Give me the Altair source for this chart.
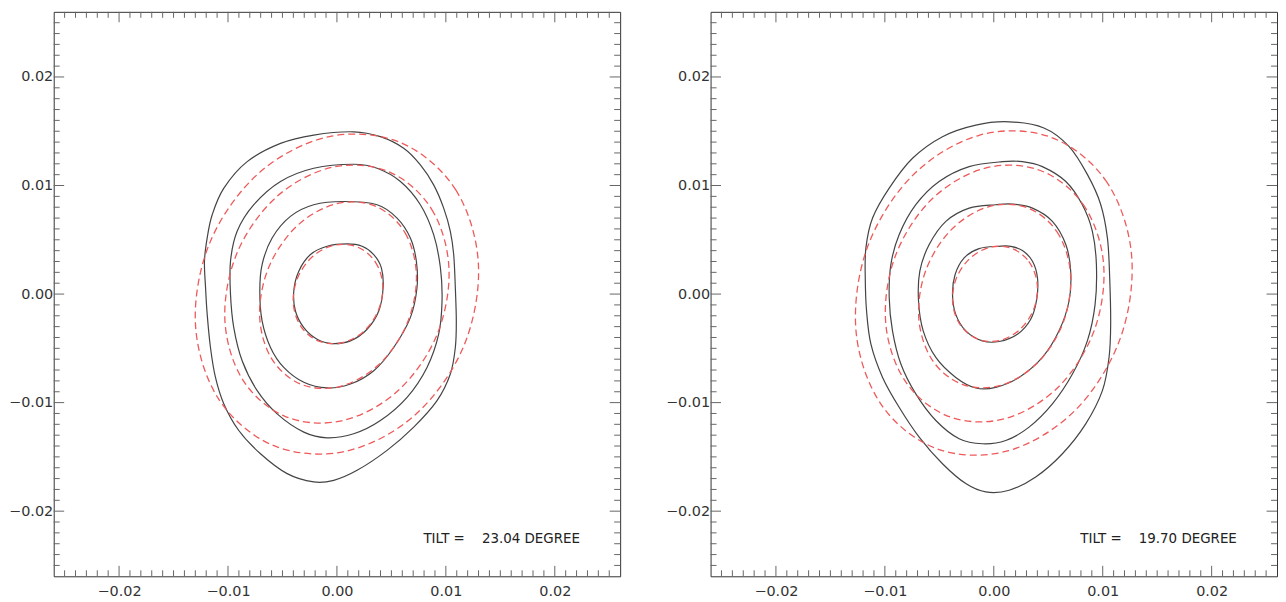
import altair as alt
import pandas as pd

# ---------------- data (contour coordinates in units of 1e-3) ----------------
tilts = [23.04, 19.70]
major_ticks = [-0.02, -0.01, 0.0, 0.01, 0.02]
minor_ticks = [round(i * 0.001, 3) for i in range(-25, 26) if i % 10 != 0]

# Left panel: measured contours (black)
L_b1_x = [0.93, -0.90, -2.43, -3.50, -3.96, -3.81, -3.04, -1.82, -0.44, 1.24, 2.77, 3.84, 4.24, 4.08, 3.38, 2.31]
L_b1_y = [4.62, 4.40, 3.64, 2.11, 0.28, -1.56, -3.09, -4.16, -4.56, -4.31, -3.24, -1.56, 0.58, 2.42, 3.64, 4.40]
L_b2_x = [0.63, -2.13, -4.27, -5.95, -6.87, -7.08, -6.87, -6.10, -4.88, -3.04, -0.90, 1.24, 3.38, 5.21, 6.74, 7.35, 7.29, 6.74, 5.52, 3.69]
L_b2_y = [8.53, 8.23, 7.16, 5.17, 2.72, 0.28, -2.48, -4.92, -6.76, -8.13, -8.65, -8.29, -7.06, -4.92, -2.17, 0.58, 3.03, 5.17, 7.00, 8.23]
L_b3_x = [1.54, -2.13, -5.18, -7.63, -9.16, -9.77, -9.77, -9.47, -8.70, -7.32, -5.49, -3.04, -0.90, 1.54, 3.99, 6.44, 8.27, 9.34, 9.65, 9.50, 8.88, 7.66, 5.83, 3.69]
L_b3_y = [11.96, 11.59, 10.37, 8.23, 5.78, 3.03, -0.03, -3.09, -6.15, -8.90, -11.04, -12.72, -13.24, -12.87, -11.65, -9.51, -6.76, -3.70, -0.64, 2.42, 5.47, 8.23, 10.37, 11.59]
L_b4_x = [1.54, -2.13, -5.18, -8.24, -10.38, -11.45, -11.91, -12.16, -12.06, -11.91, -11.61, -11.15, -10.38, -9.01, -7.02, -4.57, -2.13, -0.29, 1.85, 4.60, 7.05, 9.19, 10.41, 10.87, 10.96, 10.87, 10.72, 10.41, 9.80, 8.88, 7.66, 6.13, 3.99]
L_b4_y = [14.95, 14.65, 13.88, 12.20, 9.76, 7.31, 5.17, 3.03, 0.58, -1.87, -4.92, -7.68, -10.12, -12.57, -14.71, -16.54, -17.31, -17.16, -16.24, -14.40, -12.26, -9.82, -7.37, -4.92, -2.48, 0.58, 3.64, 5.78, 7.92, 10.06, 11.90, 13.43, 14.50]

# Left panel: fitted ellipses (red dashed)
L_r1_x = [1.93, 3.53, 4.21, 3.78, 2.38, 0.36, -1.73, -3.33, -4.01, -3.58, -2.18, -0.16]
L_r1_y = [4.31, 2.95, 0.80, -1.56, -3.51, -4.51, -4.31, -2.95, -0.80, 1.56, 3.51, 4.51]
L_r2_x = [3.57, 6.26, 7.30, 6.41, 3.83, 0.25, -3.37, -6.06, -7.10, -6.21, -3.63, -0.05]
L_r2_y = [8.08, 5.64, 1.67, -2.78, -6.51, -8.52, -8.28, -5.84, -1.87, 2.58, 6.31, 8.32]
L_r3_x = [4.78, 8.70, 10.29, 9.13, 5.52, 0.43, -4.78, -8.70, -10.29, -9.13, -5.52, -0.43]
L_r3_y = [11.26, 7.81, 2.27, -3.88, -8.98, -11.68, -11.26, -7.81, -2.27, 3.88, 8.98, 11.68]
L_r4_x = [5.91, 10.91, 12.99, 11.59, 7.08, 0.68, -5.91, -10.91, -12.99, -11.59, -7.08, -0.68]
L_r4_y = [13.92, 9.59, 2.70, -4.92, -11.22, -14.51, -13.92, -9.59, -2.70, 4.92, 11.22, 14.51]

# Right panel: measured contours (black)
R_b1_x = [0.49, -1.35, -2.72, -3.55, -3.79, -3.49, -2.57, -1.04, 0.49, 2.17, 3.39, 3.94, 4.01, 3.55, 2.63, 1.56]
R_b1_y = [4.40, 4.19, 3.33, 1.80, -0.03, -1.87, -3.39, -4.31, -4.37, -3.70, -2.32, -0.49, 1.50, 3.03, 4.01, 4.40]
R_b2_x = [0.18, -2.26, -4.40, -5.93, -6.79, -6.91, -6.48, -5.32, -3.49, -1.65, 0.18, 2.32, 4.46, 5.99, 6.91, 7.06, 6.61, 5.38, 3.55, 1.71]
R_b2_y = [8.23, 7.92, 6.70, 4.56, 2.11, -0.64, -3.39, -5.84, -7.68, -8.65, -8.59, -7.68, -5.84, -3.39, -0.64, 2.11, 4.56, 6.70, 7.92, 8.29]
R_b3_x = [0.80, -2.26, -5.02, -7.16, -8.69, -9.45, -9.60, -9.30, -8.53, -7.16, -5.32, -3.18, -1.04, 1.10, 3.24, 5.38, 7.22, 8.59, 9.30, 9.42, 9.05, 8.13, 6.61, 4.46, 2.63]
R_b3_y = [12.20, 11.74, 10.37, 8.23, 5.47, 2.72, -0.34, -3.39, -6.45, -9.20, -11.65, -13.33, -13.79, -13.49, -12.26, -10.12, -7.37, -4.31, -0.95, 2.72, 5.78, 8.23, 10.37, 11.74, 12.20]
R_b4_x = [1.41, -1.65, -4.71, -7.46, -9.60, -11.13, -11.74, -11.80, -11.68, -11.28, -10.21, -8.69, -6.85, -4.71, -2.57, -0.73, 1.41, 3.85, 6.30, 8.44, 9.97, 10.58, 10.73, 10.64, 10.43, 9.80, 8.60, 6.90, 4.60]
R_b4_y = [15.87, 15.57, 14.50, 12.51, 9.76, 7.00, 4.25, 1.50, -1.56, -4.62, -7.68, -10.43, -13.18, -15.63, -17.46, -18.23, -18.07, -16.85, -14.71, -11.96, -8.90, -5.84, -2.78, 1.50, 5.17, 8.30, 11.00, 13.60, 15.30]

# Right panel: fitted ellipses (red dashed)
R_r1_x = [1.61, 3.21, 3.98, 3.71, 2.47, 0.61, -1.39, -2.99, -3.76, -3.49, -2.25, -0.39]
R_r1_y = [4.22, 3.01, 1.00, -1.27, -3.19, -4.26, -4.18, -2.97, -0.96, 1.31, 3.23, 4.30]
R_r2_x = [3.00, 5.79, 7.04, 6.43, 4.12, 0.73, -2.84, -5.63, -6.88, -6.27, -3.96, -0.57]
R_r2_y = [7.98, 5.75, 1.93, -2.46, -6.23, -8.38, -8.34, -6.11, -2.29, 2.10, 5.87, 8.02]
R_r3_x = [4.15, 8.20, 10.07, 9.26, 6.00, 1.14, -3.99, -8.04, -9.91, -9.10, -5.84, -0.98]
R_r3_y = [11.43, 8.26, 2.89, -3.24, -8.49, -11.45, -11.33, -8.16, -2.79, 3.34, 8.59, 11.55]
R_r4_x = [5.15, 10.27, 12.64, 11.62, 7.49, 1.35, -5.15, -10.27, -12.64, -11.62, -7.49, -1.35]
R_r4_y = [14.48, 10.47, 3.69, -4.06, -10.69, -14.43, -14.28, -10.27, -3.49, 4.26, 10.89, 14.63]

# ---------------- styling ----------------
W, H = 570, 568
DOMAIN = [-0.026, 0.026]
FONT = "DejaVu Sans"
BLACK = "#444444"
RED = "#ee5a5a"
TICK = "#666666"


def curves_df(curves, prefix):
    rows = []
    for cid, (xs, ys) in enumerate(curves):
        for i, (x, y) in enumerate(zip(xs, ys)):
            rows.append({"x": x * 1e-3, "y": y * 1e-3, "curve": f"{prefix}{cid}", "i": i})
    return pd.DataFrame(rows)


def scale():
    return alt.Scale(domain=DOMAIN, nice=False, zero=False)


def xaxis():
    return alt.Axis(values=major_ticks, format=".2f", ticks=False, domain=False, grid=False,
                    labelPadding=8, title=None)


def yaxis():
    return alt.Axis(values=major_ticks, format=".2f", ticks=False, domain=False, grid=False,
                    labelPadding=1, title=None)


def X(field="x"):
    return alt.X(f"{field}:Q", scale=scale(), axis=xaxis())


def Y(field="y"):
    return alt.Y(f"{field}:Q", scale=scale(), axis=yaxis())


def tick_layers():
    layers = []
    for vals, ln in ((major_ticks, 10.5), (minor_ticks, 6)):
        dfx = pd.DataFrame({"x": vals})
        dfy = pd.DataFrame({"y": vals})
        bx = alt.Chart(dfx).mark_rule(color=TICK, strokeWidth=1)
        by = alt.Chart(dfy).mark_rule(color=TICK, strokeWidth=1)
        layers += [
            bx.encode(x=X(), y=alt.value(H), y2=alt.value(H - ln)),
            bx.encode(x=X(), y=alt.value(0), y2=alt.value(ln)),
            by.encode(y=Y(), x=alt.value(0), x2=alt.value(ln)),
            by.encode(y=Y(), x=alt.value(W), x2=alt.value(W - ln)),
        ]
    return layers


def panel(black, red, tilt):
    bdf = curves_df(black, "b")
    rdf = curves_df(red, "r")
    blk = alt.Chart(bdf).mark_line(interpolate="cardinal-closed", color=BLACK, strokeWidth=1.2).encode(
        x=X(), y=Y(), detail="curve:N", order="i:Q",
    )
    rd = alt.Chart(rdf).mark_line(interpolate="cardinal-closed", color=RED, strokeWidth=1.3,
                                  strokeDash=[7, 4]).encode(
        x=X(), y=Y(), detail="curve:N", order="i:Q",
    )
    label = "TILT =\u00a0\u00a0\u00a0\u00a0" + f"{tilt:.2f}" + " DEGREE"
    txt = alt.Chart(pd.DataFrame({"t": [label]})).mark_text(
        align="left", baseline="middle", font=FONT, fontSize=13.5, color="#222222"
    ).encode(x=alt.value(372), y=alt.value(531), text="t:N")
    return alt.layer(blk, rd, *tick_layers(), txt).properties(width=W, height=H)


left = panel(
    [(L_b1_x, L_b1_y), (L_b2_x, L_b2_y), (L_b3_x, L_b3_y), (L_b4_x, L_b4_y)],
    [(L_r1_x, L_r1_y), (L_r2_x, L_r2_y), (L_r3_x, L_r3_y), (L_r4_x, L_r4_y)],
    tilts[0],
)
right = panel(
    [(R_b1_x, R_b1_y), (R_b2_x, R_b2_y), (R_b3_x, R_b3_y), (R_b4_x, R_b4_y)],
    [(R_r1_x, R_r1_y), (R_r2_x, R_r2_y), (R_r3_x, R_r3_y), (R_r4_x, R_r4_y)],
    tilts[1],
)

chart = (
    alt.hconcat(left, right, spacing=91, bounds="flush")
    .properties(padding={"left": 0, "top": 1, "right": 0, "bottom": 0})
    .configure_view(stroke="#333333", strokeWidth=1)
    .configure_axis(labelFont=FONT, labelFontSize=14.5, labelColor="#333333")
)

chart.save("out.html", embed_options={"renderer": "svg", "actions": False})
